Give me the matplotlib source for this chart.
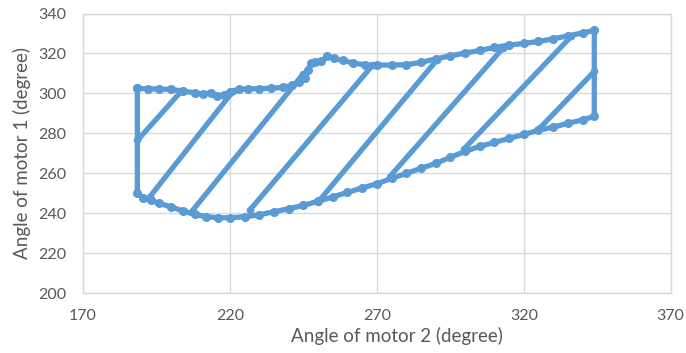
import matplotlib
matplotlib.use("Agg")
import matplotlib.pyplot as plt

# Top boundary (motor 2 angle, motor 1 angle)
top_x = [188.5, 192, 196, 200, 204, 208, 211, 213.5, 215.5, 218, 220, 223, 226, 230, 234, 238, 241,
         243.5, 245.5, 246.5, 247.5, 249, 251, 253, 255.5, 258.5, 262, 266, 270, 275, 280, 285,
         290, 295, 300, 305, 310, 315, 320, 325, 330, 335, 340, 344]
top_y = [302.5, 302.3, 302.2, 302, 301.2, 300.3, 299.7, 300.3, 298.8, 299.3, 300.5, 302, 302.3, 302.4,
         302.6, 303, 304, 305.5, 307.5, 311.5, 315, 315.5, 316, 318.5, 317.5, 316.5, 315.2, 314.3,
         314.2, 314.2, 314.4, 315.5, 317.3, 318.8, 320.2, 321.5, 323, 324.2, 325, 326, 327.3, 328.8,
         330.3, 331.5]

# Bottom boundary
bottom_x = [188.5, 190.5, 193, 196, 200, 204, 208, 212, 216, 220, 225, 230, 235, 240, 245, 250, 255,
            260, 265, 270, 275, 280, 285, 290, 295, 300, 305, 310, 315, 320, 325, 330, 335, 340, 344]
bottom_y = [250.3, 247.8, 246.5, 245, 243.2, 241.2, 239.5, 238.3, 237.8, 237.8, 238.3, 239.3, 240.8,
            242.3, 244, 246, 248.2, 250.5, 252.7, 254.8, 257.5, 260, 262.5, 265, 268, 271, 273.5,
            275.5, 277.5, 279.5, 281.5, 283.2, 285, 286.8, 288.5]

# Diagonal passes: start (lower end) and end (upper end)
hatch_x0 = [188.5, 192.8, 207, 226.8, 250, 274.4, 299.5, 325.4]
hatch_y0 = [276.5, 248.4, 240.9, 241.7, 245.7, 258.4, 272.0, 282.6]
hatch_x1 = [203.5, 221, 244.8, 268.6, 290.3, 313, 336.2, 344]
hatch_y1 = [301.2, 301, 309.5, 314.2, 316.5, 322.8, 328.6, 311]

x_ticks = [170, 220, 270, 320, 370]
y_ticks = [200, 220, 240, 260, 280, 300, 320, 340]

blue = "#5B9BD5"
grid = "#D9D9D9"
txt = "#595959"

plt.rcParams['font.family'] = ['Lato', 'DejaVu Sans']

fig = plt.figure(figsize=(6.86, 3.53), dpi=100)
ax = fig.add_axes([83 / 686, 1 - 293.3 / 353, (670.7 - 83) / 686, (293.3 - 13.5) / 353])

lw = 3.8
ms = 5.5
# boundary: left edge, bottom, right edge, top (closed)
bx = [top_x[0]] + bottom_x + top_x[::-1]
by = [top_y[0]] + bottom_y + top_y[::-1]
ax.plot(bx, by, color=blue, lw=lw, marker='o', ms=ms, mec=blue, mfc=blue, solid_capstyle='round',
        solid_joinstyle='round', zorder=3)
for x0, y0, x1, y1 in zip(hatch_x0, hatch_y0, hatch_x1, hatch_y1):
    ax.plot([x0, x1], [y0, y1], color=blue, lw=lw, marker='o', ms=ms - 1, mec=blue, mfc=blue,
            solid_capstyle='round', zorder=3)

ax.set_xlim(170, 370)
ax.set_ylim(200, 340)
ax.set_xticks(x_ticks)
ax.set_yticks(y_ticks)
ax.grid(True, color=grid, lw=1.0)
ax.set_axisbelow(True)
for s in ax.spines.values():
    s.set_color(grid)
    s.set_linewidth(1.0)
ax.tick_params(length=0, labelsize=11.5, labelcolor=txt)
ax.tick_params(axis='y', pad=12)
ax.tick_params(axis='x', pad=11)
ax.set_xlabel("Angle of motor 2 (degree)", fontsize=13.5, color=txt)
ax.xaxis.set_label_coords(0.534, -0.122)
ax.set_ylabel("Angle of motor 1 (degree)", fontsize=13.5, color=txt, labelpad=5)

fig.savefig("out.png", dpi=100)
